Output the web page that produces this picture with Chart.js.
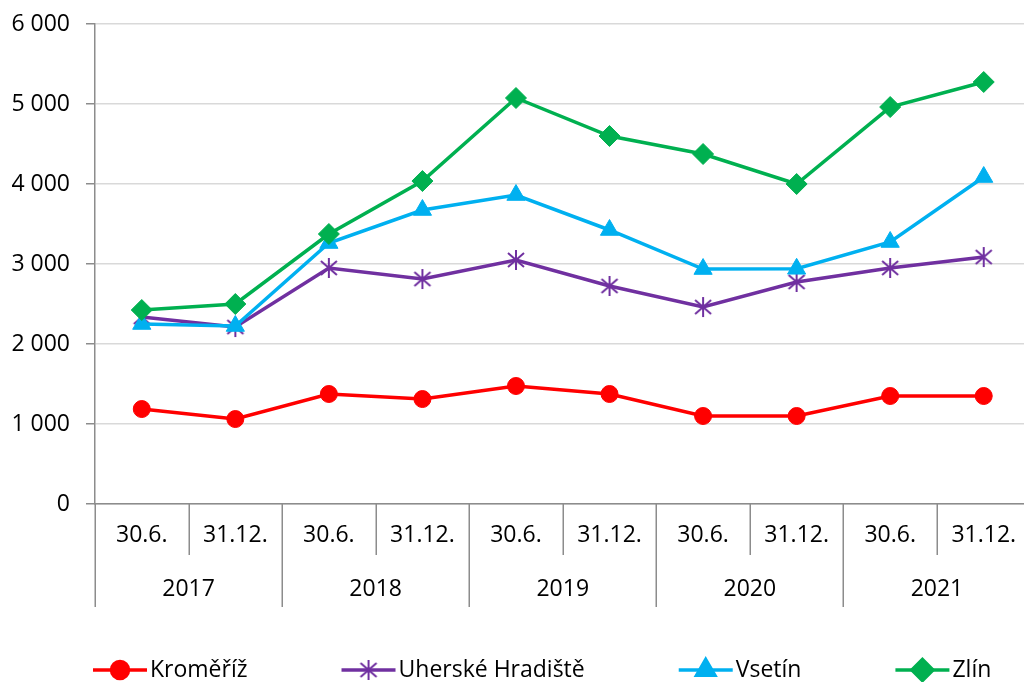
<!DOCTYPE html>
<html>
<head>
<meta charset="utf-8">
<script src="https://cdn.jsdelivr.net/npm/chart.js@4/dist/chart.umd.min.js"></script>
<style>
  html, body { margin: 0; padding: 0; background: #fff; overflow: hidden; }
  #wrap { width: 1042px; height: 682px; }
</style>
</head>
<body>
<div id="wrap"><canvas id="chart" width="1042" height="682"></canvas></div>
<script>
/* data */
const categories = ['30.6.', '31.12.', '30.6.', '31.12.', '30.6.', '31.12.', '30.6.', '31.12.', '30.6.', '31.12.'];
const years = ['2017', '2018', '2019', '2020', '2021'];
const yTicks = [0, 1000, 2000, 3000, 4000, 5000, 6000];

const kromeriz = [1187, 1062, 1375, 1312, 1475, 1375, 1100, 1100, 1350, 1350];
const uherske  = [2337, 2212, 2950, 2812, 3050, 2725, 2462, 2775, 2950, 3087];
const vsetin   = [2250, 2225, 3262, 3675, 3862, 3425, 2937, 2940, 3275, 4087];
const zlin     = [2425, 2500, 3375, 4037, 5075, 4600, 4375, 4000, 4962, 5275];

const FONT = '"Open Sans"';
const FSIZE = 23;
const AXIS = '#8c8c8c';

// asterisk marker like Excel's
function makeStar(color) {
  const c = document.createElement('canvas');
  c.width = 22; c.height = 22;
  const g = c.getContext('2d');
  g.strokeStyle = color; g.lineWidth = 2;
  g.beginPath();
  g.moveTo(11, 1); g.lineTo(11, 21);
  g.moveTo(3, 4); g.lineTo(19, 18);
  g.moveTo(19, 4); g.lineTo(3, 18);
  g.stroke();
  return c;
}
const starImg = makeStar('#7030A0');

function fmt(v) {
  return String(v).replace(/\B(?=(\d{3})+(?!\d))/g, ' ');
}

// two level category axis: separators + year labels
const groupAxis = {
  id: 'groupAxis',
  afterDraw(chart) {
    const ctx = chart.ctx;
    const x = chart.scales.x;
    const area = chart.chartArea;
    const n = categories.length;
    const px = i => x.getPixelForValue(i);
    const step = px(1) - px(0);
    ctx.save();
    ctx.strokeStyle = AXIS;
    ctx.lineWidth = 1.5;
    ctx.beginPath();
    for (let k = 0; k <= n; k++) {
      const bx = Math.round(px(0) - step / 2 + k * step) + 0.25;
      const bottom = (k % 2 === 0) ? 607 : 555;
      ctx.moveTo(bx, area.bottom);
      ctx.lineTo(bx, bottom);
    }
    ctx.stroke();
    ctx.fillStyle = '#000';
    ctx.font = FSIZE + 'px ' + FONT;
    ctx.textAlign = 'center';
    ctx.textBaseline = 'middle';
    years.forEach((y, i) => {
      const cx = (px(i * 2) + px(i * 2 + 1)) / 2;
      ctx.fillText(y, cx, 589);
    });
    ctx.restore();
  }
};

// legend: line with marker, then text
const lineLegend = {
  id: 'lineLegend',
  afterDraw(chart) {
    const ctx = chart.ctx;
    const yc = 670;
    let xs = 93;
    ctx.save();
    ctx.font = FSIZE + 'px ' + FONT;
    ctx.textBaseline = 'middle';
    ctx.textAlign = 'left';
    chart.data.datasets.forEach(ds => {
      ctx.strokeStyle = ds.borderColor;
      ctx.lineWidth = ds.borderWidth;
      ctx.beginPath();
      ctx.moveTo(xs, yc); ctx.lineTo(xs + 54, yc);
      ctx.stroke();
      Chart.helpers.drawPoint(ctx, {
        pointStyle: ds.pointStyle, radius: ds.pointRadius, borderWidth: 1, rotation: 0
      }, xs + 27, yc);
      ctx.fillStyle = ds.borderColor;
      if (ds.pointStyle !== starImg) ctx.fill();
      ctx.fillStyle = '#000';
      ctx.fillText(ds.label, xs + 57, yc);
      xs += 57 + ctx.measureText(ds.label).width + 94;
    });
    ctx.restore();
  }
};

function series(label, data, color, style, r, order) {
  return {
    label, data, order,
    borderColor: color, backgroundColor: color,
    pointBackgroundColor: color, pointBorderColor: color,
    borderWidth: 3.5, pointStyle: style, pointRadius: r, pointHoverRadius: r,
    pointBorderWidth: 1, tension: 0
  };
}

new Chart(document.getElementById('chart'), {
  type: 'line',
  data: {
    labels: categories,
    datasets: [
      series('Kroměříž', kromeriz, '#FF0000', 'circle', 8.5, 4),
      series('Uherské Hradiště', uherske, '#7030A0', starImg, 10, 3),
      series('Vsetín', vsetin, '#00B0F0', 'triangle', 10.5, 2),
      series('Zlín', zlin, '#00B050', 'rectRot', 10.5, 1)
    ]
  },
  options: {
    responsive: false,
    animation: false,
    layout: { padding: { top: 24, right: 1, left: 0, bottom: 0 } },
    plugins: { legend: { display: false }, tooltip: { enabled: false } },
    scales: {
      x: {
        offset: true,
        grid: { display: false, drawTicks: false },
        border: { display: true, color: AXIS, width: 1.5 },
        ticks: { color: '#000', font: { family: FONT, size: FSIZE }, padding: 18, maxRotation: 0, autoSkip: false },
        afterFit(s) { s.height = 178; s.paddingLeft = 0; s.paddingRight = 0; }
      },
      y: {
        min: 0, max: 6000,
        afterBuildTicks(s) { s.ticks = yTicks.map(v => ({ value: v })); },
        grid: { color: '#d9d9d9', lineWidth: 1.5, tickLength: 9, tickColor: AXIS },
        border: { display: true, color: AXIS, width: 1.5 },
        ticks: { color: '#000', font: { family: FONT, size: FSIZE }, padding: 16, callback: v => fmt(v) },
        afterFit(s) { s.width = 95; s.paddingTop = 0; s.paddingBottom = 0; }
      }
    }
  },
  plugins: [groupAxis, lineLegend]
});
</script>
</body>
</html>
